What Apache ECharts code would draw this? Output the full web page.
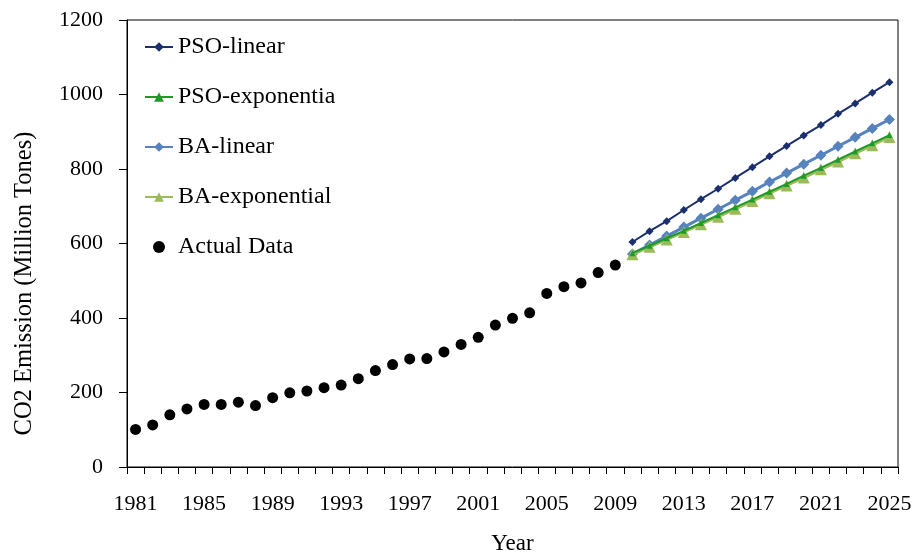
<!DOCTYPE html>
<html><head><meta charset="utf-8">
<script src="https://cdn.jsdelivr.net/npm/echarts@6/dist/echarts.min.js"></script>
<style>html,body{margin:0;padding:0;background:#fff}#c{width:917px;height:554px}</style>
</head><body><div id="c"></div>
<script>
const years = ['1981','1982','1983','1984','1985','1986','1987','1988','1989','1990','1991','1992','1993','1994','1995','1996','1997','1998','1999','2000','2001','2002','2003','2004','2005','2006','2007','2008','2009','2010','2011','2012','2013','2014','2015','2016','2017','2018','2019','2020','2021','2022','2023','2024','2025'];
const actualYears = years.slice(0, 29);
const forecastYears = years.slice(29);
const actualData = [101,113,140,156,168,168,174,165,186,199,204,213,220,237,259,275,290,291,309,329,348,381,399,414,466,484,494,522,542];
const psoLinear = [604,633,660,690,719,747,776,805,834,862,890,918,948,976,1005,1033];
const psoExponential = [574,594,614,634,655,676,697,718,739,760,782,803,825,847,869,891];
const baLinear = [572,596,620,644,668,692,716,740,765,789,813,837,861,885,909,933];
const baExponential = [571,591,611,631,652,672,693,714,735,756,777,799,820,842,864,886];
const yTicks = {min: 0, max: 1200, interval: 200};

function pad(arr, keys) {
  const m = {};
  keys.forEach((k, i) => m[k] = arr[i]);
  return years.map(y => (y in m ? m[y] : null));
}

const font = 'Liberation Serif';
const chart = echarts.init(document.getElementById('c'));
chart.setOption({
  animation: false,
  backgroundColor: '#fff',
  grid: {left: 127, right: 19, top: 20, bottom: 87, show: true, borderColor: '#000', borderWidth: 1,
         outerBoundsMode: 'none', containLabel: false},
  legend: {
    orient: 'vertical', left: 144, top: 35, padding: 0,
    itemWidth: 28, itemHeight: 12, itemGap: 26,
    textStyle: {fontFamily: font, fontSize: 24, color: '#000', lineHeight: 24},
    data: ['PSO-linear','PSO-exponentia','BA-linear','BA-exponential','Actual Data']
  },
  xAxis: {
    type: 'category', data: years, boundaryGap: true,
    name: 'Year', nameLocation: 'middle', nameGap: 65,
    nameTextStyle: {fontFamily: font, fontSize: 23, color: '#000'},
    axisLine: {lineStyle: {color: '#000', width: 1}},
    axisTick: {show: true, interval: 0, length: 7, lineStyle: {color: '#000'}},
    axisLabel: {interval: 3, margin: 26, fontFamily: font, fontSize: 22, color: '#000'},
    splitLine: {show: false}
  },
  yAxis: {
    type: 'value', min: yTicks.min, max: yTicks.max, interval: yTicks.interval,
    name: 'CO2 Emission (Million Tones)', nameLocation: 'middle', nameGap: 90,
    nameTextStyle: {fontFamily: font, fontSize: 24.5, color: '#000', padding: [0, 80, 0, 0]},
    axisLine: {show: true, lineStyle: {color: '#000', width: 1}},
    axisTick: {show: true, length: 8, lineStyle: {color: '#000'}},
    axisLabel: {margin: 24, fontFamily: font, fontSize: 22, color: '#000', formatter: v => String(v)},
    splitLine: {show: false}
  },
  series: [
    {name: 'PSO-linear', type: 'line', data: pad(psoLinear, forecastYears), showAllSymbol: true,
     symbol: 'diamond', symbolSize: 8, itemStyle: {color: '#1B2F6E'}, lineStyle: {color: '#1B2F6E', width: 2}, z: 3},
    {name: 'PSO-exponentia', type: 'line', data: pad(psoExponential, forecastYears), showAllSymbol: true,
     symbol: 'triangle', symbolSize: 6, itemStyle: {color: '#1E9A2A'}, lineStyle: {color: '#1E9A2A', width: 2}, z: 4},
    {name: 'BA-linear', type: 'line', data: pad(baLinear, forecastYears), showAllSymbol: true,
     symbol: 'diamond', symbolSize: 11, itemStyle: {color: '#5683BE'}, lineStyle: {color: '#5683BE', width: 3}, z: 2},
    {name: 'BA-exponential', type: 'line', data: pad(baExponential, forecastYears), showAllSymbol: true,
     symbol: 'triangle', symbolSize: 12, itemStyle: {color: '#9BBB59'}, lineStyle: {color: '#9BBB59', width: 3}, z: 3},
    {name: 'Actual Data', type: 'scatter', data: pad(actualData, actualYears),
     symbol: 'circle', symbolSize: 11, itemStyle: {color: '#000', opacity: 1}, z: 5}
  ]
});
</script></body></html>
